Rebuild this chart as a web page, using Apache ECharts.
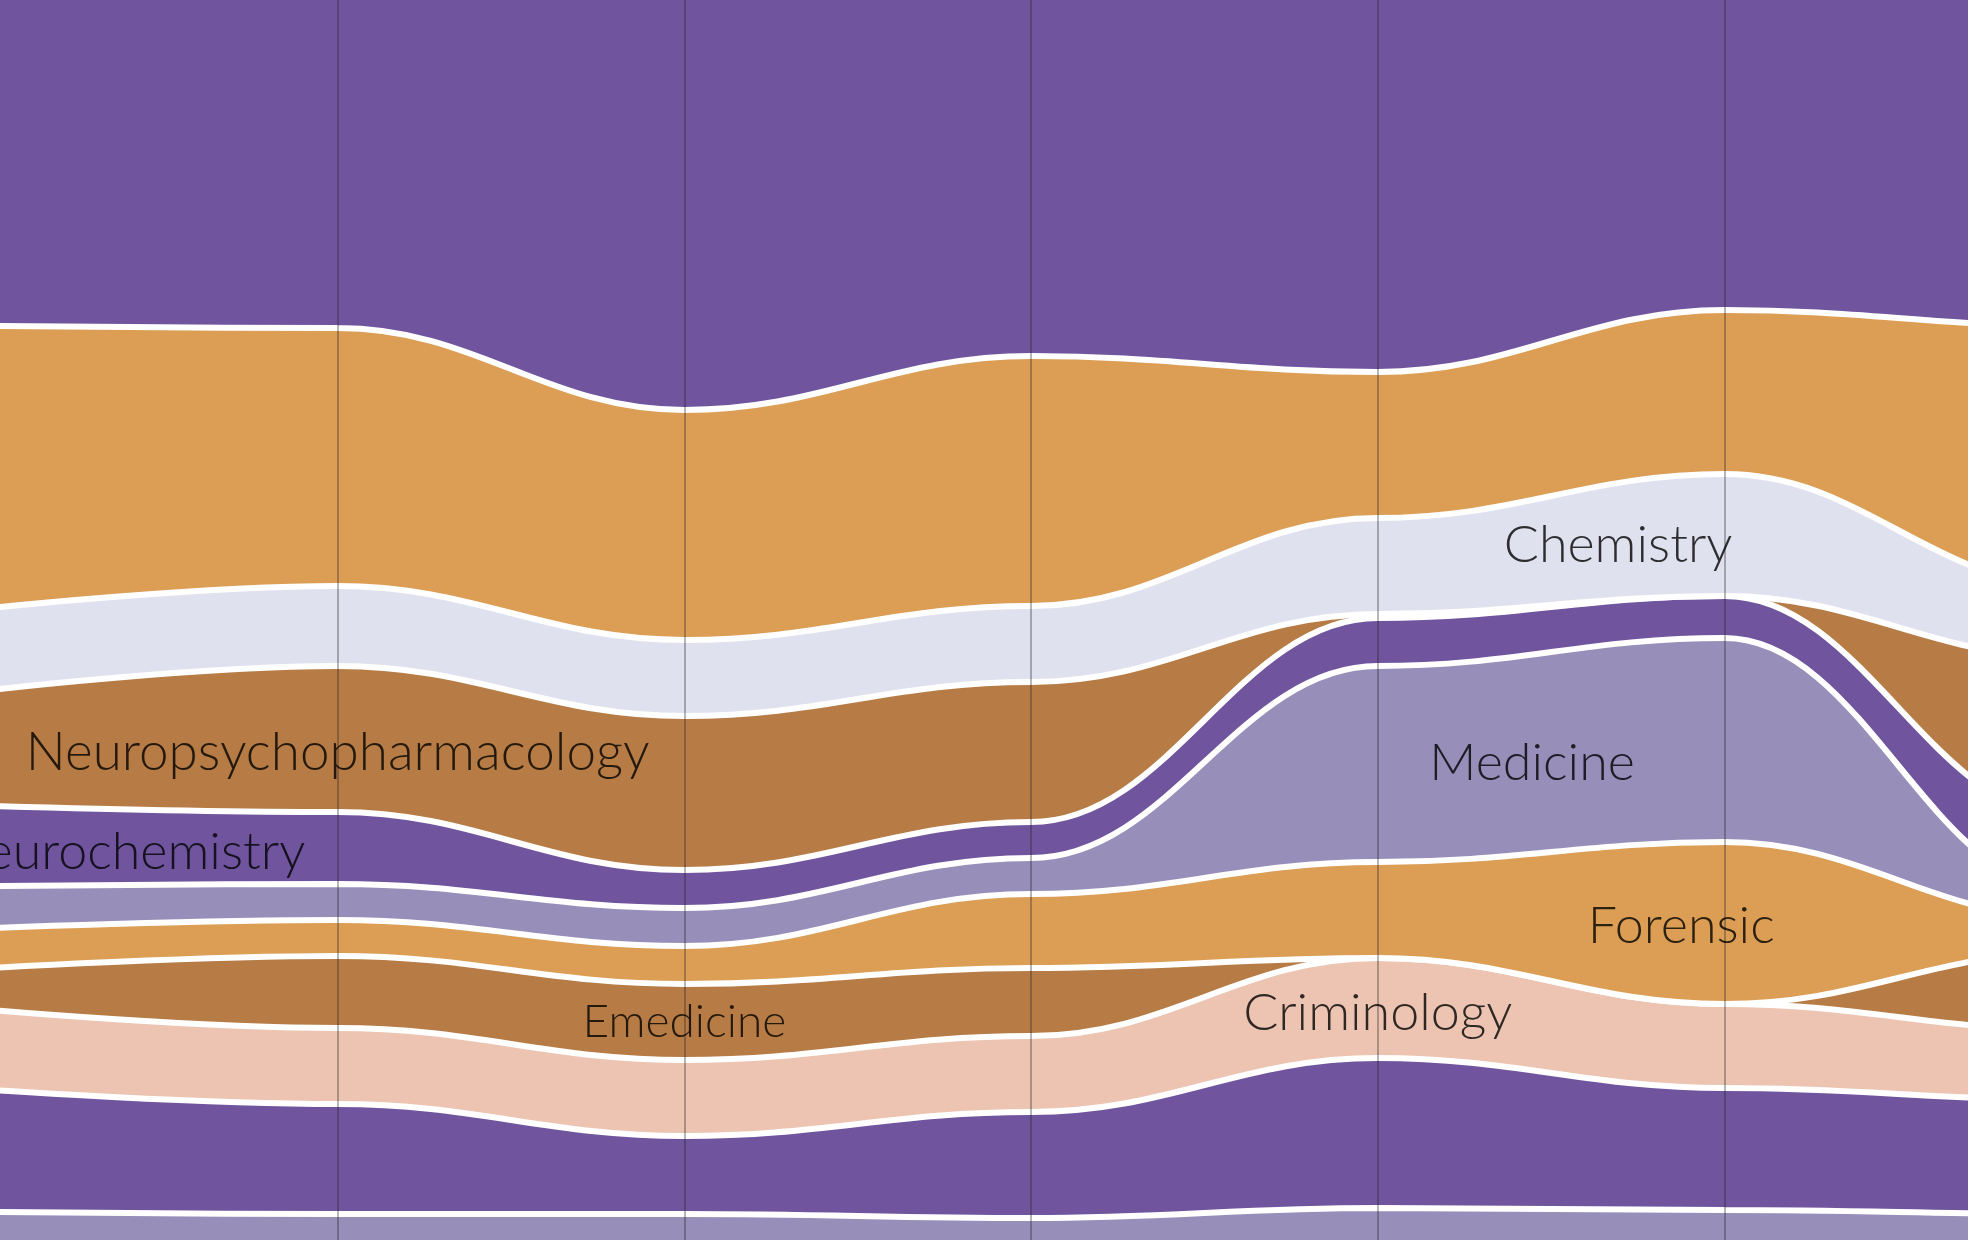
<!DOCTYPE html>
<html>
<head>
<meta charset="utf-8">
<script src="https://cdn.jsdelivr.net/npm/echarts@6/dist/echarts.min.js"></script>
<style>
html,body{margin:0;padding:0;background:#ffffff;overflow:hidden;}
#chart{width:1968px;height:1240px;}
</style>
</head>
<body>
<div id="chart"></div>
<script>
// ---------------- DATA ----------------
const times = ['0', '1', '2', '3', '4', '5', '6', '7'];

const layerNames = ['Stream A', 'Stream B', 'Chemistry', 'Neuropsychopharmacology', 'Neurochemistry',
  'Medicine', 'Forensic', 'Emedicine', 'Criminology', 'Stream C', 'Stream D'];

const streamA                 = [200, 205, 220, 210, 215, 190, 200, 200];
const streamB                 = [141, 129, 115, 125,  73,  82, 130, 130];
const chemistry               = [ 41,  40,  38,  38,  48,  61,  36,  36];
const neuropsychopharmacology = [ 58,  73,  77,  70,   2,   0,  80,  80];
const neurochemistry          = [ 40,  36,  19,  18,  24,  21,  37,  37];
const medicine                = [ 21,  18,  19,  18,  98, 102,  13,  13];
const forensic                = [ 20,  18,  19,  37,  48,  81,  17,  17];
const emedicine               = [ 21,  36,  38,  34,   0,   0,  39,  39];
const criminology             = [ 40,  38,  38,  38,  50,  42,  35,  35];
const streamC                 = [ 61,  55,  39,  53,  75,  61,  57,  57];
const streamD                 = [ 51,  54,  28,  43,  45,  50,  50,  50];

const layers = [streamA, streamB, chemistry, neuropsychopharmacology, neurochemistry,
  medicine, forensic, emedicine, criminology, streamC, streamD];

// label anchors (which layer, at which time position)
const labelLayer = ['Neurochemistry', 'Neuropsychopharmacology', 'Emedicine', 'Criminology', 'Medicine', 'Chemistry', 'Forensic'];
const labelTime  = [0.39, 1, 2, 4, 4.445, 4.693, 4.875];

// ---------------- STYLE ----------------
const layerColors = ['#70549e', '#db9e54', '#e0e1ee', '#b77c45', '#70549e',
  '#978fba', '#db9e54', '#b77c45', '#ecc4b1', '#70549e', '#978fba'];
const labelFontSize = { 'Emedicine': 46, 'Neuropsychopharmacology': 53 };
const labelShiftY = { 'Neuropsychopharmacology': 14, 'Medicine': 10, 'Chemistry': 1, 'Emedicine': 0 };
const defaultFontSize = 52;
const defaultShiftY = 5;
const PX_PER_UNIT = 2;
const CENTER_Y = 620;
const STEP_PX = 346.7;
const LEFT_PX = -9;

// ---------------- LAYOUT (streamgraph silhouette) ----------------
const sums = times.map((_, i) => layers.reduce((s, l) => s + l[i], 0));
const maxSum = Math.max.apply(null, sums);
const baseline = sums.map(s => (maxSum - s) / 2);

function centerValue(j, i) {
  let v = baseline[i];
  for (let m = 0; m < j; m++) v += layers[m][i];
  return v + layers[j][i] / 2;
}
function centerAt(j, t) {
  const i0 = Math.floor(t);
  const f = t - i0;
  if (f === 0) return centerValue(j, i0);
  return centerValue(j, i0) * (1 - f) + centerValue(j, i0 + 1) * f;
}

const SMOOTH = 0.4;

const series = [{
  name: 'baseline',
  type: 'line',
  stack: 'river',
  data: baseline.slice(),
  smooth: SMOOTH,
  smoothMonotone: 'x',
  symbol: 'none',
  showSymbol: false,
  lineStyle: { width: 0, opacity: 0 },
  silent: true,
  z: 1
}];

layers.forEach((l, j) => {
  series.push({
    name: layerNames[j],
    type: 'line',
    stack: 'river',
    data: l.slice(),
    smooth: SMOOTH,
    smoothMonotone: 'x',
    symbol: 'none',
    showSymbol: false,
    lineStyle: { color: '#ffffff', width: 6 },
    areaStyle: { color: layerColors[j], opacity: 1 },
    silent: true,
    z: 40 - j
  });
});

series.push({
  name: 'labels',
  type: 'scatter',
  xAxisIndex: 1,
  symbol: 'circle',
  symbolSize: 1,
  itemStyle: { color: 'rgba(0,0,0,0)' },
  silent: true,
  z: 100,
  label: {
    show: true,
    position: 'inside',
    formatter: '{b}',
    color: '#000000',
    fontFamily: 'Lato, "Open Sans", sans-serif',
    fontWeight: 300,
    fontSize: defaultFontSize
  },
  data: labelLayer.map((name, k) => {
    const j = layerNames.indexOf(name);
    const dy = (name in labelShiftY) ? labelShiftY[name] : defaultShiftY;
    return {
      name: name,
      value: [labelTime[k], centerAt(j, labelTime[k])],
      label: { fontSize: labelFontSize[name] || defaultFontSize, offset: [0, dy] }
    };
  })
});

const chart = echarts.init(document.getElementById('chart'), null, { renderer: 'canvas' });
chart.setOption({
  animation: false,
  backgroundColor: '#ffffff',
  grid: {
    left: LEFT_PX,
    top: CENTER_Y - maxSum * PX_PER_UNIT / 2,
    width: STEP_PX * (times.length - 1),
    height: maxSum * PX_PER_UNIT,
    containLabel: false,
    outerBoundsMode: 'none'
  },
  xAxis: [{
    type: 'category',
    data: times,
    boundaryGap: false,
    z: 60,
    axisLine: { show: false },
    axisTick: { show: false },
    axisLabel: { show: false },
    splitLine: { show: true, interval: 0, lineStyle: { color: 'rgba(40,40,40,0.45)', width: 1.5 } }
  }, {
    type: 'value',
    min: 0,
    max: times.length - 1,
    show: false
  }],
  yAxis: {
    type: 'value',
    min: 0,
    max: maxSum,
    inverse: true,
    show: false
  },
  series: series
});
</script>
</body>
</html>
